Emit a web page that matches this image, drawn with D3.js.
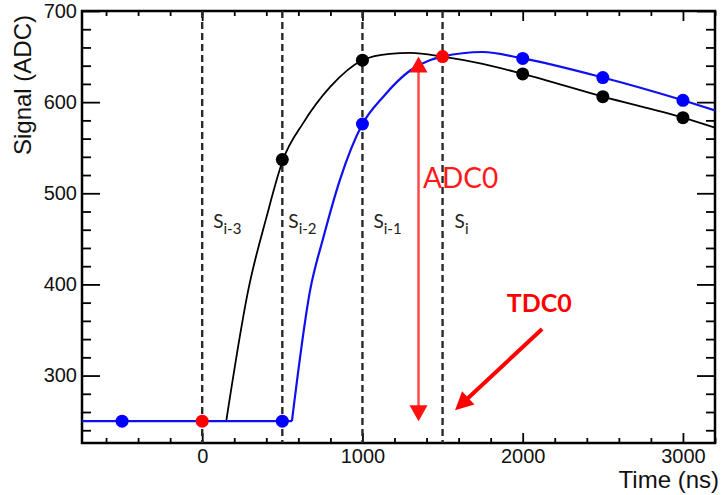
<!DOCTYPE html>
<html>
<head>
<meta charset="utf-8">
<script src="https://cdn.jsdelivr.net/npm/d3@7"></script>
<style>
  html, body { margin: 0; padding: 0; background: #fff; }
  svg { display: block; }
</style>
</head>
<body>
<svg id="chart" width="723" height="495"></svg>
<script>
// Axis ticks
const xMajorTicks = [0, 1000, 2000, 3000];
const yMajorTicks = [300, 400, 500, 600, 700];

// Sampling boundaries (ns) and the sample labels between them
const sampleBoundaries = [0, 500, 1000, 1500];
const sampleLabels = ["i-3", "i-2", "i-1", "i"];

// Pulse shape, early pulse (black)
const blackCurveT = [150, 290, 400, 505, 630, 800, 1000, 1170, 1300, 1500, 1750, 2000, 2500, 3000, 3200];
const blackCurveV = [250, 396, 473, 537, 577, 617, 646, 653, 654, 650, 642, 631, 606, 583, 572];

// Pulse shape, late pulse (blue)
const blueCurveT = [560, 674, 757, 860, 1000, 1130, 1300, 1420, 1500, 1750, 2000, 2500, 3000, 3200];
const blueCurveV = [250, 394, 452, 515, 576, 606, 635, 646, 650, 655, 648, 627, 602, 591];

// Baseline level and pedestal start
const baseline = 250;
const baselineStart = -750;

// Samples
const blackDotT = [500, 1000, 2000, 2500, 3000];
const blackDotV = [537, 646, 631, 606, 583];
const blueDotT = [-500, 500, 1000, 2000, 2500, 3000];
const blueDotV = [250, 250, 576, 648, 627, 602];
const redDotT = [0, 1500];
const redDotV = [250, 650];

// ADC0 amplitude arrow: time, from, to
const adcArrowT = 1350;
const adcArrowV = [250, 650];
// TDC0 pointer: [t, v] start and tip
const tdcArrowFrom = [2121, 351];
const tdcArrowTo = [1578, 262];

const svg = d3.select("#chart");
const W = 723, H = 495;
const plot = { left: 82, right: 715, top: 11, bottom: 443 };

const x = d3.scaleLinear().domain([-750, 3200]).range([plot.left, plot.right]);
const y = d3.scaleLinear().domain([226, 700]).range([plot.bottom, plot.top]);

svg.append("rect").attr("width", W).attr("height", H).attr("fill", "#fff");

const font = "'Liberation Sans', Arial, Helvetica, sans-serif";
const xMinor = d3.range(-600, 3201, 200).filter(v => !xMajorTicks.includes(v));
const yMinor = d3.range(240, 701, 20).filter(v => !yMajorTicks.includes(v));

function styleAxis(g) {
  g.select(".domain").remove();
  g.selectAll(".tick line").attr("stroke", "#000").attr("stroke-width", 1.8);
  g.selectAll("text").attr("font-family", font).attr("font-size", 20).attr("fill", "#111");
}

// bottom axis
svg.append("g").attr("transform", `translate(0,${plot.bottom})`)
  .call(d3.axisBottom(x).tickValues(xMajorTicks).tickSize(-10).tickPadding(6).tickFormat(d3.format("d")))
  .call(styleAxis);
svg.append("g").attr("transform", `translate(0,${plot.bottom})`)
  .call(d3.axisBottom(x).tickValues(xMinor).tickSize(-5).tickFormat(""))
  .call(styleAxis);
// top axis
svg.append("g").attr("transform", `translate(0,${plot.top})`)
  .call(d3.axisTop(x).tickValues(xMajorTicks).tickSize(-10).tickFormat(""))
  .call(styleAxis);
svg.append("g").attr("transform", `translate(0,${plot.top})`)
  .call(d3.axisTop(x).tickValues(xMinor).tickSize(-5).tickFormat(""))
  .call(styleAxis);
// left axis
svg.append("g").attr("transform", `translate(${plot.left},0)`)
  .call(d3.axisLeft(y).tickValues(yMajorTicks).tickSize(-18).tickPadding(5).tickFormat(d3.format("d")))
  .call(styleAxis);
svg.append("g").attr("transform", `translate(${plot.left},0)`)
  .call(d3.axisLeft(y).tickValues(yMinor).tickSize(-9).tickFormat(""))
  .call(styleAxis);
// right axis
svg.append("g").attr("transform", `translate(${plot.right},0)`)
  .call(d3.axisRight(y).tickValues(yMajorTicks).tickSize(-18).tickFormat(""))
  .call(styleAxis);
svg.append("g").attr("transform", `translate(${plot.right},0)`)
  .call(d3.axisRight(y).tickValues(yMinor).tickSize(-9).tickFormat(""))
  .call(styleAxis);

// frame
svg.append("rect")
  .attr("x", plot.left).attr("y", plot.top)
  .attr("width", plot.right - plot.left).attr("height", plot.bottom - plot.top)
  .attr("fill", "none").attr("stroke", "#000").attr("stroke-width", 2.5);

// axis titles
svg.append("text")
  .attr("transform", `translate(31,${(plot.top + 155) / 2 + 2}) rotate(-90)`)
  .attr("text-anchor", "middle")
  .attr("font-family", font).attr("font-size", 24).attr("fill", "#111")
  .text("Signal (ADC)");
svg.append("text")
  .attr("x", 719).attr("y", 488)
  .attr("text-anchor", "end")
  .attr("font-family", font).attr("font-size", 24).attr("fill", "#111")
  .text("Time (ns)");

// clip region
svg.append("clipPath").attr("id", "plotClip")
  .append("rect").attr("x", plot.left).attr("y", plot.top)
  .attr("width", plot.right - plot.left).attr("height", plot.bottom - plot.top);
const area = svg.append("g").attr("clip-path", "url(#plotClip)");

// sample boundaries
area.selectAll("line.boundary").data(sampleBoundaries).join("line")
  .attr("class", "boundary")
  .attr("x1", d => x(d)).attr("x2", d => x(d))
  .attr("y1", plot.top).attr("y2", plot.bottom)
  .attr("stroke", "#2a2a2a").attr("stroke-width", 2.4)
  .attr("stroke-dasharray", "7,4");

// sample labels
const labelDx = [11, 6, 11, 12];
const labels = area.selectAll("text.slabel").data(sampleLabels).join("text")
  .attr("class", "slabel")
  .attr("x", (d, i) => x(sampleBoundaries[i]) + labelDx[i])
  .attr("y", y(462))
  .attr("font-family", "Lato, 'Open Sans', sans-serif")
  .attr("font-size", 19).attr("fill", "#222");
labels.append("tspan").text("S");
labels.append("tspan").attr("dy", 6).attr("font-size", 15).text(d => d);

// pulse curves
const pulse = d3.line().x(d => x(d[0])).y(d => y(d[1])).curve(d3.curveMonotoneX);
const blackPts = blackCurveT.map((t, i) => [t, blackCurveV[i]]);
const bluePts = blueCurveT.map((t, i) => [t, blueCurveV[i]]);

area.append("path")
  .attr("d", d3.line()([[x(baselineStart), y(baseline)], [x(blackCurveT[0]), y(baseline)]]))
  .attr("stroke", "#000").attr("stroke-width", 1.8).attr("fill", "none");
area.append("path").attr("d", pulse(blackPts))
  .attr("stroke", "#000").attr("stroke-width", 1.8).attr("fill", "none");

area.append("path")
  .attr("d", d3.line()([[x(baselineStart), y(baseline)], [x(blueCurveT[0]), y(baseline)]]))
  .attr("stroke", "#1010ee").attr("stroke-width", 2.2).attr("fill", "none");
area.append("path").attr("d", pulse(bluePts))
  .attr("stroke", "#1010ee").attr("stroke-width", 2.2).attr("fill", "none");

// samples
function dots(ts, vs, color) {
  area.append("g").selectAll("circle").data(ts).join("circle")
    .attr("cx", d => x(d)).attr("cy", (d, i) => y(vs[i]))
    .attr("r", 6.5).attr("fill", color);
}
dots(blackDotT, blackDotV, "#000");
dots(blueDotT, blueDotV, "#0000ff");
dots(redDotT, redDotV, "#ff0000");

// ADC0 double arrow
const ax = x(adcArrowT);
const yLo = y(adcArrowV[0]), yHi = y(adcArrowV[1]);
const head = 16, halfW = 9;
area.append("line")
  .attr("x1", ax).attr("x2", ax).attr("y1", yHi + head - 2).attr("y2", yLo - head + 2)
  .attr("stroke", "#ff4a4a").attr("stroke-width", 2.5);
area.append("path")
  .attr("d", `M${ax},${yHi} L${ax - halfW},${yHi + head} L${ax + halfW},${yHi + head} Z`)
  .attr("fill", "#ff1010");
area.append("path")
  .attr("d", `M${ax},${yLo} L${ax - halfW},${yLo - head} L${ax + halfW},${yLo - head} Z`)
  .attr("fill", "#ff1010");
svg.append("text")
  .attr("x", x(1378)).attr("y", y(506))
  .attr("font-family", "Lato, 'Open Sans', sans-serif")
  .attr("font-size", 28).attr("fill", "#ff1a1a")
  .text("ADC0");

// TDC0 pointer
const p0 = [x(tdcArrowFrom[0]), y(tdcArrowFrom[1])];
const p1 = [x(tdcArrowTo[0]), y(tdcArrowTo[1])];
const ang = Math.atan2(p1[1] - p0[1], p1[0] - p0[0]);
const hl = 18, hw = 9;
const base = [p1[0] - hl * Math.cos(ang), p1[1] - hl * Math.sin(ang)];
const nx = -Math.sin(ang), ny = Math.cos(ang);
svg.append("line")
  .attr("x1", p0[0]).attr("y1", p0[1]).attr("x2", base[0] + 2 * Math.cos(ang)).attr("y2", base[1] + 2 * Math.sin(ang))
  .attr("stroke", "#ff0000").attr("stroke-width", 4);
svg.append("path")
  .attr("d", `M${p1[0]},${p1[1]} L${base[0] + hw * nx},${base[1] + hw * ny} L${base[0] - hw * nx},${base[1] - hw * ny} Z`)
  .attr("fill", "#ff0000");
svg.append("text")
  .attr("x", x(1900)).attr("y", y(370))
  .attr("font-family", "Lato, 'Open Sans', sans-serif")
  .attr("font-weight", "bold")
  .attr("font-size", 25).attr("fill", "#ff0000")
  .text("TDC0");
</script>
</body>
</html>
